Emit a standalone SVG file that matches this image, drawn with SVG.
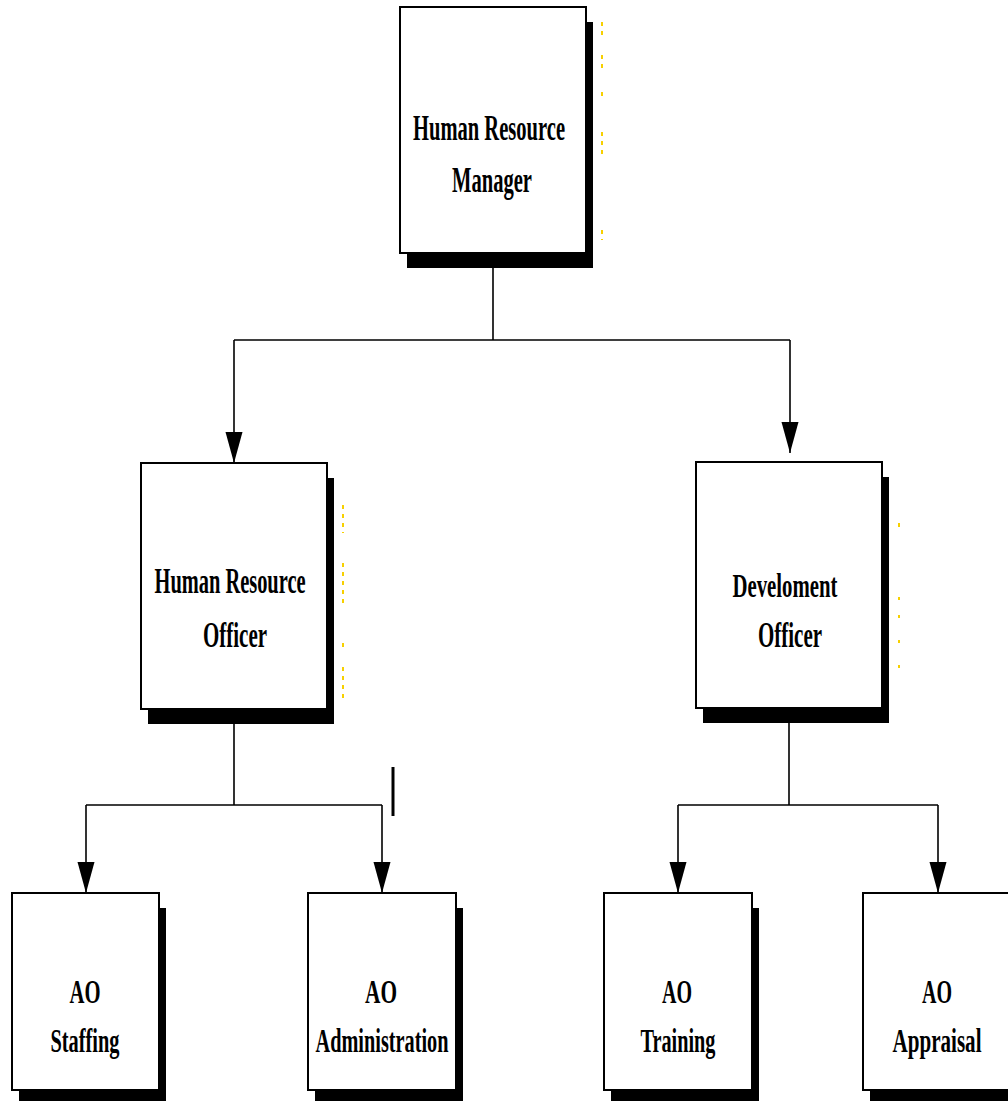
<svg xmlns="http://www.w3.org/2000/svg" width="1008" height="1101" viewBox="0 0 1008 1101">
<style>
.box{fill:#fff;stroke:#000;stroke-width:2}
.shadow{fill:#000}
.lbl{font-family:"Liberation Serif","Times New Roman",serif;fill:#000;text-anchor:middle;font-weight:bold}
.big{font-size:36px}
.sm{font-size:33px}
.con{fill:none;stroke:#000;stroke-width:1.6}
.dots{fill:none;stroke:#f7d000;stroke-width:2;stroke-dasharray:4 5}
</style>
<defs>
<marker id="arr" viewBox="0 -10 32 20" refX="31" refY="0" markerWidth="32" markerHeight="20" markerUnits="userSpaceOnUse" orient="auto">
<path d="M0,-8.5 L31,0 L0,8.5 z" fill="#000"/>
</marker>
</defs>
<rect width="1008" height="1101" fill="#fff"/>
<g id="connectors">
<path class="con" d="M493 253 V340 M234 340 H790"/>
<path class="con" d="M234 340 V463" marker-end="url(#arr)"/>
<path class="con" d="M790 340 V453" marker-end="url(#arr)"/>
<path class="con" d="M234 709 V805 M86 805 H382"/>
<path class="con" d="M86 805 V893" marker-end="url(#arr)"/>
<path class="con" d="M382 805 V893" marker-end="url(#arr)"/>
<path class="con" d="M789 708 V805 M678 805 H938"/>
<path class="con" d="M678 805 V893" marker-end="url(#arr)"/>
<path class="con" d="M938 805 V893" marker-end="url(#arr)"/>
<line x1="393" y1="767" x2="393" y2="816" stroke="#000" stroke-width="3"/>
</g>
<g id="marks">
<path class="dots" d="M602 22 V37 M602 55 V73 M602 92 V97 M602 132 V155 M602 230 V240"/>
<path class="dots" d="M343 505 V533 M343 563 V607 M343 643 V647 M343 667 V698"/>
<path class="dots" d="M899 523 V527 M899 597 V600 M899 615 V618 M899 640 V643 M899 665 V668"/>
</g>
<g id="hr-manager">
<rect class="shadow" x="407" y="22" width="186" height="246"/>
<rect class="box" x="400" y="7" width="186" height="246"/>
<text class="lbl big" x="489" y="140" textLength="152" lengthAdjust="spacingAndGlyphs">Human Resource</text>
<text class="lbl big" x="492" y="192" textLength="80" lengthAdjust="spacingAndGlyphs">Manager</text>
</g>
<g id="hr-officer">
<rect class="shadow" x="148" y="478" width="186" height="246"/>
<rect class="box" x="141" y="463" width="186" height="246"/>
<text class="lbl big" x="230" y="593" textLength="151" lengthAdjust="spacingAndGlyphs">Human Resource</text>
<text class="lbl big" x="235" y="647" textLength="64" lengthAdjust="spacingAndGlyphs">Officer</text>
</g>
<g id="dev-officer">
<rect class="shadow" x="703" y="477" width="186" height="246"/>
<rect class="box" x="696" y="462" width="186" height="246"/>
<text class="lbl sm" x="785" y="597" textLength="105" lengthAdjust="spacingAndGlyphs">Develoment</text>
<text class="lbl big" x="790" y="647" textLength="64" lengthAdjust="spacingAndGlyphs">Officer</text>
</g>
<g id="ao-staffing">
<rect class="shadow" x="19" y="908" width="147" height="197"/>
<rect class="box" x="12" y="893" width="147" height="197"/>
<text class="lbl sm" x="85" y="1003" textLength="31" lengthAdjust="spacingAndGlyphs">AO</text>
<text class="lbl sm" x="85" y="1052" textLength="69" lengthAdjust="spacingAndGlyphs">Staffing</text>
</g>
<g id="ao-administration">
<rect class="shadow" x="315" y="908" width="148" height="197"/>
<rect class="box" x="308" y="893" width="148" height="197"/>
<text class="lbl sm" x="381" y="1003" textLength="32" lengthAdjust="spacingAndGlyphs">AO</text>
<text class="lbl sm" x="382" y="1052" textLength="133" lengthAdjust="spacingAndGlyphs">Administration</text>
</g>
<g id="ao-training">
<rect class="shadow" x="611" y="908" width="148" height="197"/>
<rect class="box" x="604" y="893" width="148" height="197"/>
<text class="lbl sm" x="677" y="1003" textLength="30" lengthAdjust="spacingAndGlyphs">AO</text>
<text class="lbl sm" x="678" y="1052" textLength="75" lengthAdjust="spacingAndGlyphs">Training</text>
</g>
<g id="ao-appraisal">
<rect class="shadow" x="870" y="908" width="148" height="197"/>
<rect class="box" x="863" y="893" width="148" height="197"/>
<text class="lbl sm" x="937" y="1003" textLength="30" lengthAdjust="spacingAndGlyphs">AO</text>
<text class="lbl sm" x="937" y="1052" textLength="89" lengthAdjust="spacingAndGlyphs">Appraisal</text>
</g>
</svg>
